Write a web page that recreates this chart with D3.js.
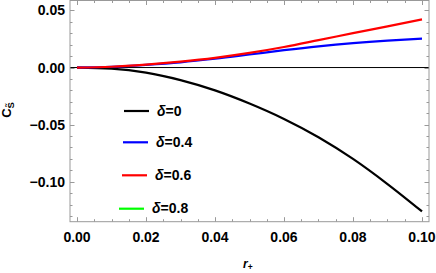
<!DOCTYPE html>
<html>
<head>
<meta charset="utf-8">
<script src="https://cdn.jsdelivr.net/npm/d3@7"></script>
<style>
  body { margin: 0; background: #fff; }
  svg text { font-family: "Liberation Sans", Arial, sans-serif; font-weight: bold; }
</style>
</head>
<body>
<div id="chart"></div>
<script>
// values
var rValues = [0, 0.01, 0.02, 0.03, 0.04, 0.05, 0.06, 0.07, 0.08, 0.09, 0.10];
var delta0  = [0, -0.001, -0.0045, -0.011, -0.020, -0.0315, -0.045, -0.061, -0.080, -0.102, -0.126];
var delta04 = [0, 0.0007, 0.0024, 0.0046, 0.0077, 0.0114, 0.0152, 0.0186, 0.0214, 0.0236, 0.0253];
var delta06 = [0, 0.0007, 0.0026, 0.0052, 0.0085, 0.0128, 0.0180, 0.0240, 0.0301, 0.0361, 0.0422];
var delta08 = []; // not visible in the plot range
var seriesNames = ["0", "0.4", "0.6", "0.8"];
var seriesColors = ["#000000", "#0000ff", "#ff0000", "#00ff00"];
var xTicks = [0, 0.02, 0.04, 0.06, 0.08, 0.10];
var yTicks = [0.05, 0, -0.05, -0.10];

(function() {
    var width = 436,
        height = 273,
        frameLeft = 70, frameRight = 429,
        frameTop = 0.5, frameBottom = 221.7;

    var svg = d3.select("#chart").append("svg")
        .attr("width", width)
        .attr("height", height);

    var x = d3.scaleLinear().domain([-0.00203, 0.10203]).range([frameLeft, frameRight]);
    var y = d3.scaleLinear().domain([-0.1350, 0.0587]).range([frameBottom, frameTop]);

    var frameColor = "#999";

    // minor + major ticks on all sides
    var xMinor = d3.range(0, 0.1001, 0.005);
    var yMinor = d3.range(-0.13, 0.0551, 0.01);

    function isMajor(v, step) {
        return Math.abs(v / step - Math.round(v / step)) < 1e-6;
    }

    var ticks = svg.append("g").attr("stroke", frameColor).attr("stroke-width", 1);
    xMinor.forEach(function(v) {
        var len = isMajor(v, 0.02) ? 4.5 : 2.5;
        var px = Math.round(x(v)) + 0.5;
        ticks.append("line").attr("x1", px).attr("x2", px).attr("y1", frameBottom).attr("y2", frameBottom - len);
        ticks.append("line").attr("x1", px).attr("x2", px).attr("y1", frameTop).attr("y2", frameTop + len);
    });
    yMinor.forEach(function(v) {
        var len = isMajor(v, 0.05) ? 4.5 : 2.5;
        var py = Math.round(y(v)) + 0.5;
        ticks.append("line").attr("y1", py).attr("y2", py).attr("x1", frameLeft).attr("x2", frameLeft + len);
        ticks.append("line").attr("y1", py).attr("y2", py).attr("x1", frameRight).attr("x2", frameRight - len);
    });

    // zero axis line
    svg.append("line")
        .attr("x1", frameLeft).attr("x2", frameRight)
        .attr("y1", y(0)).attr("y2", y(0))
        .attr("stroke", "#000").attr("stroke-width", 1);

    // curves
    var line = d3.line()
        .x(function(d) { return x(d[0]); })
        .y(function(d) { return y(d[1]); })
        .curve(d3.curveMonotoneX);

    var series = [delta0, delta04, delta06, delta08];
    series.forEach(function(vals, i) {
        if (!vals.length) return;
        var pts = rValues.map(function(r, j) { return [r, vals[j]]; });
        svg.append("path")
            .datum(pts)
            .attr("d", line)
            .attr("fill", "none")
            .attr("stroke", seriesColors[i])
            .attr("stroke-width", 2.2);
    });

    // frame
    svg.append("rect")
        .attr("x", frameLeft).attr("y", frameTop)
        .attr("width", frameRight - frameLeft).attr("height", frameBottom - frameTop)
        .attr("fill", "none")
        .attr("stroke", frameColor)
        .attr("stroke-width", 1);

    // tick labels
    svg.append("g").selectAll("text")
        .data(xTicks)
        .enter().append("text")
        .attr("x", function(d) { return x(d); })
        .attr("y", 241.7)
        .attr("text-anchor", "middle")
        .attr("font-size", 14)
        .text(function(d) { return d3.format(".2f")(d); });

    svg.append("g").selectAll("text")
        .data(yTicks)
        .enter().append("text")
        .attr("x", 65)
        .attr("y", function(d) { return y(d) + 5; })
        .attr("text-anchor", "end")
        .attr("font-size", 14)
        .text(function(d) { return d3.format(".2f")(d).replace("-", "\u2212"); });

    // axis titles
    var xl = svg.append("text")
        .attr("x", 243)
        .attr("y", 268)
        .attr("font-size", 12);
    xl.append("tspan").attr("font-style", "italic").text("r");
    xl.append("tspan").attr("font-size", 8.5).attr("dy", 2).text("+");

    var yl = svg.append("text")
        .attr("transform", "translate(10.5,110) rotate(-90)")
        .attr("text-anchor", "middle")
        .attr("font-size", 13);
    yl.append("tspan").text("C");
    yl.append("tspan").attr("font-size", 9.5).attr("dy", 3).text("S\u0303");

    // legend
    var legendY = [111, 142.3, 175.3, 208.7];
    var legendX1 = [124, 123, 122, 119];
    var legend = svg.append("g");
    seriesNames.forEach(function(name, i) {
        legend.append("line")
            .attr("x1", legendX1[i]).attr("x2", legendX1[i] + 25)
            .attr("y1", legendY[i]).attr("y2", legendY[i])
            .attr("stroke", seriesColors[i])
            .attr("stroke-width", 2.2);
        var t = legend.append("text")
            .attr("x", legendX1[i] + 33)
            .attr("y", legendY[i] + 4.5)
            .attr("font-size", 14);
        t.append("tspan").attr("font-style", "italic").text("\u03b4");
        t.append("tspan").text("=" + name);
    });
})();
</script>
</body>
</html>
